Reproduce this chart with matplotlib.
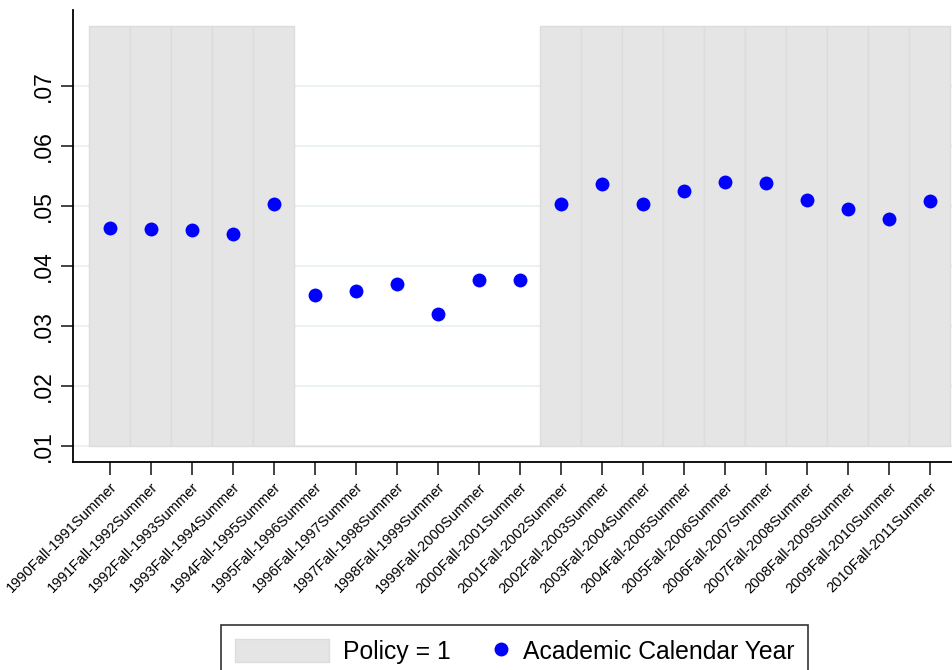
import numpy as np
import matplotlib
matplotlib.use("Agg")
import matplotlib.pyplot as plt
from matplotlib.legend_handler import HandlerLine2D

# -------------------------------
# Data
# -------------------------------
years = list(range(1990, 2011))
labels = [f"{y}Fall-{y + 1}Summer" for y in years]
rate = [0.04638, 0.04617, 0.04605, 0.04528, 0.05028,
        0.03512, 0.03583, 0.03695, 0.03200, 0.03762, 0.03772,
        0.05033, 0.05367, 0.05028, 0.05250, 0.05400, 0.05378,
        0.05100, 0.04945, 0.04783, 0.05083]
policy = [1, 1, 1, 1, 1,
          0, 0, 0, 0, 0, 0,
          1, 1, 1, 1, 1, 1, 1, 1, 1, 1]

# shaded band covers the y range .01 to .08
band_low = 0.01
band_high = 0.08


# legend marker sits at the right end of its handle box
class RightMarker(HandlerLine2D):
    def get_xdata(self, legend, xdescent, ydescent, width, height, fontsize):
        m = -xdescent + width - 0.3 * fontsize
        xdata = np.array([m - 0.1, m + 0.1])
        return xdata, np.array([m])


plt.rcParams['font.family'] = ['Liberation Sans', 'DejaVu Sans']

fig = plt.figure(figsize=(9.52, 6.70), dpi=100)
ax = fig.add_axes([0.0767, 0.3104, 0.9233, 0.6746])

x = np.arange(len(years))
policy = np.array(policy)
heights = np.where(policy == 1, band_high - band_low, 0)

# Policy = 1 shading
bars = ax.bar(x, heights, width=1.0, bottom=band_low, color='#e5e5e5',
              edgecolor='#dcdcdc', linewidth=1.0, zorder=2)

# Academic year rates
dots, = ax.plot(x, rate, 'o', color='#0000ff', markersize=10,
                markeredgewidth=0, zorder=3)

ax.set_xlim(-0.902, 20.54)
ax.set_ylim(0.007333, 0.08267)

yticks = [0.01, 0.02, 0.03, 0.04, 0.05, 0.06, 0.07]
ax.set_yticks(yticks)
ax.set_yticklabels([f"{v:.2f}"[1:] for v in yticks], rotation=90,
                   va='center', fontsize=16.5)
ax.yaxis.grid(True, color='#eaf2f3', linewidth=1.5, zorder=0)
ax.set_axisbelow(True)

ax.set_xticks(x)
ax.set_xticklabels(labels, rotation=45, ha='right', rotation_mode='anchor',
                   fontsize=10.5)

ax.tick_params(axis='both', length=9, width=1.2, color='#222222')
ax.tick_params(axis='x', pad=4)
ax.tick_params(axis='y', pad=4)

for side in ['top', 'right']:
    ax.spines[side].set_visible(False)
for side in ['left', 'bottom']:
    ax.spines[side].set_linewidth(1.3)

leg = fig.legend([bars, dots], ['Policy = 1', 'Academic Calendar Year'],
                 loc='upper center', bbox_to_anchor=(0.5405, 0.0672),
                 borderaxespad=0, ncol=2, fontsize=17.8, frameon=True,
                 fancybox=False, edgecolor='black', handlelength=3.82,
                 handleheight=1.06, handletextpad=0.57, columnspacing=-1.5,
                 borderpad=0.55, handler_map={dots: RightMarker(numpoints=1)})
leg.get_frame().set_linewidth(1.2)

fig.savefig("out.png", dpi=100)
